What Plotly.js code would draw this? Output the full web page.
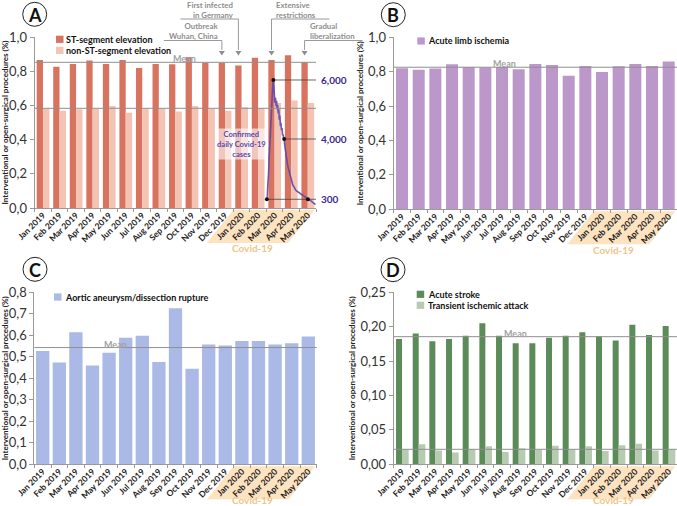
<!DOCTYPE html>
<html><head><meta charset="utf-8">
<script src="https://cdn.plot.ly/plotly-3.0.1.min.js"></script>
<style>html,body{margin:0;padding:0;background:#fff}#chart{width:677px;height:506px}</style>
</head><body><div id="chart"></div>
<script>
// ---------------- data ----------------
const months = ['Jan 2019','Feb 2019','Mar 2019','Apr 2019','May 2019','Jun 2019','Jul 2019','Aug 2019','Sep 2019','Oct 2019','Nov 2019','Dec 2019','Jan 2020','Feb 2020','Mar 2020','Apr 2020','May 2020'];
const covidMonths = ['Jan 2020','Feb 2020','Mar 2020','Apr 2020','May 2020'];

const stElevation    = [0.865,0.826,0.842,0.862,0.842,0.865,0.819,0.842,0.840,0.883,0.850,0.850,0.834,0.879,0.865,0.893,0.852];
const nonStElevation = [0.581,0.569,0.577,0.581,0.596,0.557,0.581,0.581,0.565,0.596,0.581,0.569,0.589,0.585,0.614,0.628,0.614];
const limbIschemia   = [0.820,0.812,0.818,0.843,0.828,0.824,0.828,0.814,0.845,0.839,0.777,0.833,0.798,0.831,0.845,0.833,0.860];
const aorticRupture  = [0.527,0.474,0.614,0.459,0.519,0.589,0.598,0.476,0.726,0.445,0.557,0.552,0.574,0.574,0.557,0.563,0.594];
const acuteStroke    = [0.182,0.190,0.179,0.182,0.187,0.205,0.187,0.176,0.176,0.184,0.187,0.192,0.186,0.180,0.203,0.188,0.201];
const tiaValues      = [0.0218,0.0290,0.0199,0.0170,0.0218,0.0262,0.0180,0.0235,0.0208,0.0268,0.0218,0.0262,0.0194,0.0278,0.0300,0.0199,0.0218];

const meanST = 0.852, meanNonST = 0.583, meanLimb = 0.826, meanAortic = 0.543, meanStroke = 0.1855, meanTIA = 0.0218;

const covidDates = ['2020-03-02','2020-03-03','2020-03-04','2020-03-05','2020-03-06','2020-03-07','2020-03-08','2020-03-09','2020-03-10','2020-03-11','2020-03-12','2020-03-13','2020-03-14','2020-03-15','2020-03-16','2020-03-17','2020-03-18','2020-03-19','2020-03-20','2020-03-21','2020-03-22','2020-03-23','2020-03-24','2020-03-25','2020-03-26','2020-03-27','2020-03-28','2020-03-29','2020-03-30','2020-03-31','2020-04-01','2020-04-02','2020-04-03','2020-04-04','2020-04-05','2020-04-06','2020-04-07','2020-04-08','2020-04-09','2020-04-10','2020-04-11','2020-04-12','2020-04-13','2020-04-14','2020-04-15','2020-04-16','2020-04-17','2020-04-18','2020-04-19','2020-04-20','2020-04-22','2020-04-24','2020-04-26','2020-04-28','2020-05-01','2020-05-03','2020-05-05','2020-05-07','2020-05-09','2020-05-11','2020-05-13','2020-05-15','2020-05-17','2020-05-19','2020-05-21','2020-05-23','2020-05-25','2020-05-27','2020-05-29','2020-05-31'];
const covidCases = [300,600,1000,1500,2200,2800,3300,3900,4500,5050,5500,5800,6000,5500,5350,4900,5150,4750,5000,4600,4800,4400,4600,4100,4300,3800,3950,3600,3700,3350,3400,3250,3180,2900,2650,2450,2250,2180,2000,1860,1750,1620,1540,1420,1300,1220,1150,1050,980,950,830,760,700,660,610,580,550,500,460,420,380,330,300,280,260,220,180,140,90,40];
const covidMarkDates = ['2020-03-02','2020-03-14','2020-04-03','2020-05-17'];
const covidMarkCases = [300,6000,3180,300];
const covidLabelText  = ['6,000','4,000','300'];
const covidLabelDates = ['2020-03-14','2020-04-03','2020-03-02'];
const covidLabelCases = [6000,3180,300];

const eventMonths = ['Dec 2019','Jan 2020','Mar 2020','May 2020'];
const eventLines  = [['Outbreak','Wuhan, China'],['First infected','in Germany'],['Extensive','restrictions'],['Gradual','liberalization']];

// ---------------- styles ----------------
const W = 677, H = 506;
const px = x => x / W, py = y => 1 - y / H;
const FONT = 'Lato, "Open Sans", sans-serif';
const C = {st:'#d8735f', nonst:'#f3c4b4', limb:'#bb97ca', aortic:'#aab9e5', stroke:'#5c8b5a', tia:'#b9cab3',
           axis:'#9a9a9a', mean:'#8f8f8f', meanText:'#a3a3a3', covid:'#5d48ad', covidText:'#3b2a8c', band:'#fde3c0', bandText:'#f2c48a', event:'#8e8e8e'};

const P = {
  A:{x:[34.7,316], y:[37,208]},
  B:{x:[393.7,677], y:[37.3,209.3]},
  C:{x:[34.4,316.6], y:[292.3,464.3]},
  D:{x:[393.7,677], y:[292.3,464.3]}
};
const slot = k => (P[k].x[1]-P[k].x[0]) / months.length;
const catX = (k, i, off) => P[k].x[0] + (i + 0.5 + (off||0)) * slot(k);

function xAxis(k, id){
  return {domain:[px(P[k].x[0]), px(P[k].x[1])], anchor:id, type:'category', range:[-0.5,16.5],
    showline:true, linecolor:C.axis, linewidth:1, ticks:'outside', tickson:'boundaries', ticklen:3, tickcolor:C.axis,
    ticklabelstandoff:-2,
    tickangle:-45, tickfont:{family:FONT, size:8.5, weight:'bold', color:'#222'}, showgrid:false, zeroline:false, fixedrange:true};
}
function yAxis(k, id, range, dtick, fmt){
  return {domain:[py(P[k].y[1]), py(P[k].y[0])], anchor:id, range:range, dtick:dtick, tick0:0, tickformat:fmt,
    showline:true, linecolor:C.axis, linewidth:1, ticks:'outside', ticklen:4, tickcolor:C.axis,
    tickfont:{family:FONT, size:13, color:'#333'}, showgrid:false, zeroline:false, fixedrange:true,
    title:{text:'Interventional or open-surgical procedures (%)', font:{family:FONT, size:8, weight:'bold', color:'#222'}, standoff:3}};
}

// ---------------- traces ----------------
const traces = [
  {type:'bar', name:'ST-segment elevation', x:months, y:stElevation, xaxis:'x', yaxis:'y', width:0.38, offset:-0.38, marker:{color:C.st}},
  {type:'bar', name:'non-ST-segment elevation', x:months, y:nonStElevation, xaxis:'x', yaxis:'y', width:0.39, offset:0, marker:{color:C.nonst}},
  {type:'bar', name:'Acute limb ischemia', x:months, y:limbIschemia, xaxis:'x2', yaxis:'y2', width:0.72, marker:{color:C.limb}},
  {type:'bar', name:'Aortic aneurysm/dissection rupture', x:months, y:aorticRupture, xaxis:'x3', yaxis:'y3', width:0.8, marker:{color:C.aortic}},
  {type:'bar', name:'Acute stroke', x:months, y:acuteStroke, xaxis:'x4', yaxis:'y4', width:0.36, offset:-0.36, marker:{color:C.stroke}},
  {type:'bar', name:'Transient ischemic attack', x:months, y:tiaValues, xaxis:'x4', yaxis:'y4', width:0.4, offset:0, marker:{color:C.tia}}
];
covidLabelDates.forEach((d,i) => traces.push({type:'scatter', mode:'lines', x:[d,'2020-06-01'], y:[covidLabelCases[i],covidLabelCases[i]],
  xaxis:'x5', yaxis:'y5', line:{color:'#444', width:0.8}, hoverinfo:'skip'}));
traces.push({type:'scatter', mode:'lines', name:'Confirmed daily Covid-19 cases', x:covidDates, y:covidCases, xaxis:'x5', yaxis:'y5',
  line:{color:C.covid, width:1.6}, opacity:0.9});
traces.push({type:'scatter', mode:'markers', x:covidMarkDates, y:covidMarkCases, xaxis:'x5', yaxis:'y5', marker:{color:'#111', size:4}, cliponaxis:false});

// ---------------- decorations ----------------
const shapes = [], annotations = [];
function txt(text, x, y, o){ o=o||{}; const a = {text:text, xref:'paper', yref:'paper', x:px(x), y:py(y), showarrow:false,
  xanchor:o.xa||'center', yanchor:'middle', align:o.align||'center', borderpad:0,
  font:{family:FONT, size:o.size||9, weight:o.weight||'bold', color:o.color||'#111'}};
  if(o.bg) a.bgcolor = o.bg; annotations.push(a); }

// mean lines + labels
[['A','y',meanST,172],['A','y',meanNonST,null],['B','y2',meanLimb,516.7],['C','y3',meanAortic,103],['D','y4',meanStroke,528],['D','y4',meanTIA,null]].forEach(m=>{
  const xid = m[1].replace('y','x');
  shapes.push({type:'line', xref:xid+' domain', yref:m[1], x0:0, x1:1, y0:m[2], y1:m[2], line:{color:C.mean, width:1}, layer:'above'});
  if(m[3]!==null) annotations.push({text:'Mean', xref:'paper', yref:m[1], x:px(m[3]), y:m[2], yanchor:'bottom', yshift:-3, borderpad:0, showarrow:false,
    font:{family:FONT, size:9, weight:'bold', color:C.meanText}});
});

// legends (swatch + text) for each panel
const legendSpec = [
  {k:'A', sx:56, tx:65, ys:[39.3,50.3], tr:[0,1]},
  {k:'B', sx:417.3, tx:427.3, ys:[41], tr:[2]},
  {k:'C', sx:54, tx:64, ys:[297], tr:[3]},
  {k:'D', sx:416.7, tx:426.7, ys:[294.3,305.3], tr:[4,5]}
];
legendSpec.forEach(l=> l.tr.forEach((ti,j)=>{
  const y = l.ys[j];
  shapes.push({type:'rect', xref:'paper', yref:'paper', x0:px(l.sx), x1:px(l.sx+7.5), y0:py(y-3.6), y1:py(y+3.6), fillcolor:traces[ti].marker.color, line:{width:0}});
  txt(traces[ti].name, l.tx, y, {xa:'left', align:'left', size:9});
}));

// panel letters
[['A',34.7,14.3],['B',393.3,14.7],['C',35,269.3],['D',393,269.7]].forEach(p=>{
  shapes.push({type:'circle', xref:'paper', yref:'paper', x0:px(p[1]-12), x1:px(p[1]+12), y0:py(p[2]+12), y1:py(p[2]-12), line:{color:'#222', width:1}, fillcolor:'#fff'});
  txt(p[0], p[1], p[2]+0.5, {size:18, weight:'bold', color:'#111'});
});

// Covid-19 bands under the tick labels
['A','B','C','D'].forEach(k=>{
  const i0 = months.indexOf(covidMonths[0]);
  const xl = P[k].x[0] + i0*slot(k), xr = P[k].x[1] - 1.5;
  const yt = P[k].y[1] + 2, yb = yt + 33, sh = 26.5;
  const path = 'M'+px(xl)+','+py(yt)+' L'+px(xr)+','+py(yt)+' L'+px(xr-sh)+','+py(yb)+' L'+px(xl-sh)+','+py(yb)+' Z';
  shapes.push({type:'path', xref:'paper', yref:'paper', path:path, fillcolor:C.band, line:{width:0}, layer:'below'});
  txt('Covid-19', (xl+xr)/2 - sh + 5, Math.min(yb + 5.5, 499.5), {size:10, color:C.bandText});
});

// event markers (panel A)
eventMonths.forEach((m,i)=>{
  const vx = catX('A', months.indexOf(m), -0.19);
  const high = (i===1 || i===2);
  const hy = high ? 19 : 40.5;
  const left = i < 2;
  const hx = left ? vx - 58 : vx + 58;
  shapes.push({type:'path', xref:'paper', yref:'paper', path:'M'+px(hx)+','+py(hy)+' L'+px(vx)+','+py(hy)+' L'+px(vx)+','+py(50), line:{color:'#9a9a9a', width:1}});
  shapes.push({type:'path', xref:'paper', yref:'paper', path:'M'+px(vx-3)+','+py(51)+' L'+px(vx+3)+','+py(51)+' L'+px(vx)+','+py(55.5)+' Z', fillcolor:'#8e8e8e', line:{width:0}});
  const cy = high ? 10.4 : 31.2;
  txt(eventLines[i].join('<br>'), left ? vx-3 : vx+4, cy, {xa: left?'right':'left', align: left?'right':'left', size:7.8, color:C.event});
});

// Covid case labels
covidLabelText.forEach((t,i)=> annotations.push({text:t, xref:'x5', yref:'y5', x:'2020-06-01', y:covidLabelCases[i], xanchor:'left', xshift:3,
  showarrow:false, font:{family:FONT, size:10, weight:'bold', color:C.covidText}}));
txt('Confirmed<br>daily Covid-19<br>cases', 241.7, 144, {size:7.6, color:C.covid, bg:'rgba(255,255,255,0.6)'});

// ---------------- layout ----------------
const iC = months.indexOf('Mar 2020');
const layout = {
  width:W, height:H, margin:{l:0,r:0,t:0,b:0}, paper_bgcolor:'#fff', plot_bgcolor:'rgba(0,0,0,0)',
  separators:',.', showlegend:false, barmode:'overlay', font:{family:FONT},
  xaxis:xAxis('A','y'), yaxis:yAxis('A','x',[0,1],0.2,'.1f'),
  xaxis2:xAxis('B','y2'), yaxis2:yAxis('B','x2',[0,1],0.2,'.1f'),
  xaxis3:xAxis('C','y3'), yaxis3:yAxis('C','x3',[0,0.8],0.1,'.1f'),
  xaxis4:xAxis('D','y4'), yaxis4:yAxis('D','x4',[0,0.25],0.05,'.2f'),
  xaxis5:{domain:[px(P.A.x[0]+iC*slot('A')), px(P.A.x[1])], anchor:'y5', type:'date', range:['2020-03-01','2020-06-01'], visible:false, fixedrange:true},
  yaxis5:{domain:[py(P.A.y[1]), py(P.A.y[0])], anchor:'x5', range:[-116,8054], visible:false, fixedrange:true},
  shapes:shapes, annotations:annotations
};
Plotly.newPlot('chart', traces, layout, {displayModeBar:false, staticPlot:true});
</script></body></html>
